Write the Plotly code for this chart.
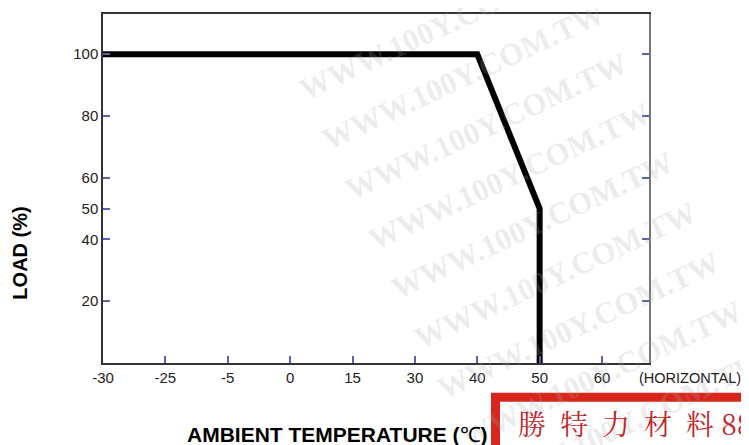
import plotly.graph_objects as go

# Category-like temperature ticks (equally spaced on the chart)
tick_temps = [-30, -25, -5, 0, 15, 30, 40, 50, 60]
# Derating curve
curve_temps = [-30, 40, 50, 50]
curve_load = [100, 100, 50, 0]
# Y ticks
y_ticks_left = [20, 40, 50, 60, 80, 100]
y_ticks_right = [20, 40, 60, 80, 100]

pos = {t: i for i, t in enumerate(tick_temps)}
xs = [pos[t] for t in curve_temps]

fig = go.Figure()
fig.add_trace(go.Scatter(x=xs, y=curve_load, mode="lines",
                         line=dict(color="black", width=6), showlegend=False,
                         hoverinfo="skip"))
fig.add_trace(go.Scatter(x=[0], y=[0], yaxis="y2", mode="markers",
                         marker=dict(opacity=0), showlegend=False, hoverinfo="skip"))

tick_col = "#5563b5"
font = "Liberation Sans, Arial, sans-serif"

# page body has an 8px margin, so the figure is drawn 8px shorter/narrower
fig.update_layout(
    width=741, height=437,
    margin=dict(l=95, r=100, t=4, b=82),
    plot_bgcolor="white", paper_bgcolor="white",
    xaxis=dict(range=[0, 8.753], tickvals=list(range(len(tick_temps))),
               ticktext=[str(t) for t in tick_temps], ticks="inside", ticklen=7,
               tickcolor=tick_col, tickwidth=1.5, showgrid=False, zeroline=False,
               showline=True, linecolor="#333", linewidth=1.5, mirror=True,
               tickfont=dict(family=font, size=15, color="#222")),
    yaxis=dict(range=[0, 113], tickvals=y_ticks_left, ticks="inside", ticklen=7,
               tickcolor=tick_col, tickwidth=1.5, showgrid=False, zeroline=False,
               showline=True, linecolor="#333", linewidth=1.5,
               tickfont=dict(family=font, size=15, color="#222")),
    yaxis2=dict(range=[0, 113], overlaying="y", side="right", tickvals=y_ticks_right,
                showticklabels=False, ticks="inside", ticklen=7, tickcolor=tick_col,
                tickwidth=1.5, showgrid=False, zeroline=False, showline=True,
                linecolor="#777", linewidth=2),
)

def px2paper(X, Y):
    return (X - 103) / 546, (363 - Y) / 351

def note(text, X, Y, **kw):
    xp, yp = px2paper(X, Y)
    kw.setdefault("xanchor", "center")
    fig.add_annotation(text=text, xref="paper", yref="paper", x=xp, y=yp,
                       yanchor="middle", showarrow=False, **kw)

# Watermarks
wm_positions = [(440, 25), (463, 75), (486, 125), (509, 175), (532, 225),
                (555, 275), (578, 325), (601, 375), (624, 425)]
for X, Y in wm_positions:
    note("<b>WWW.100Y.COM.TW</b>", X, Y, textangle=-25,
         font=dict(family="Liberation Serif, serif", size=31,
                   color="rgba(170,170,170,0.22)"))

note("(HORIZONTAL)", 690, 378, font=dict(family=font, size=14.5, color="#222"))
note("<b>LOAD (%)</b>", 20, 253, textangle=-90,
     font=dict(family=font, size=20, color="black"))
note("<b>AMBIENT TEMPERATURE (</b>℃<b>)</b>", 337, 435,
     font=dict(family=font, size=21, color="black"))

# Red stamp box
x0, y0 = px2paper(495.5, 470)
x1, y1 = px2paper(800, 397.5)
fig.add_shape(type="rect", xref="paper", yref="paper",
              x0=x0, x1=x1, y0=y0, y1=y1,
              line=dict(color="#d8261c", width=9), fillcolor="white")
note("勝\u2002特\u2002力\u2002材\u2002料 88", 516, 423, xanchor="left",
     font=dict(family="Noto Serif CJK TC, Noto Sans CJK TC, serif", size=28,
               color="#c0262a"))

fig.write_html("out.html")
